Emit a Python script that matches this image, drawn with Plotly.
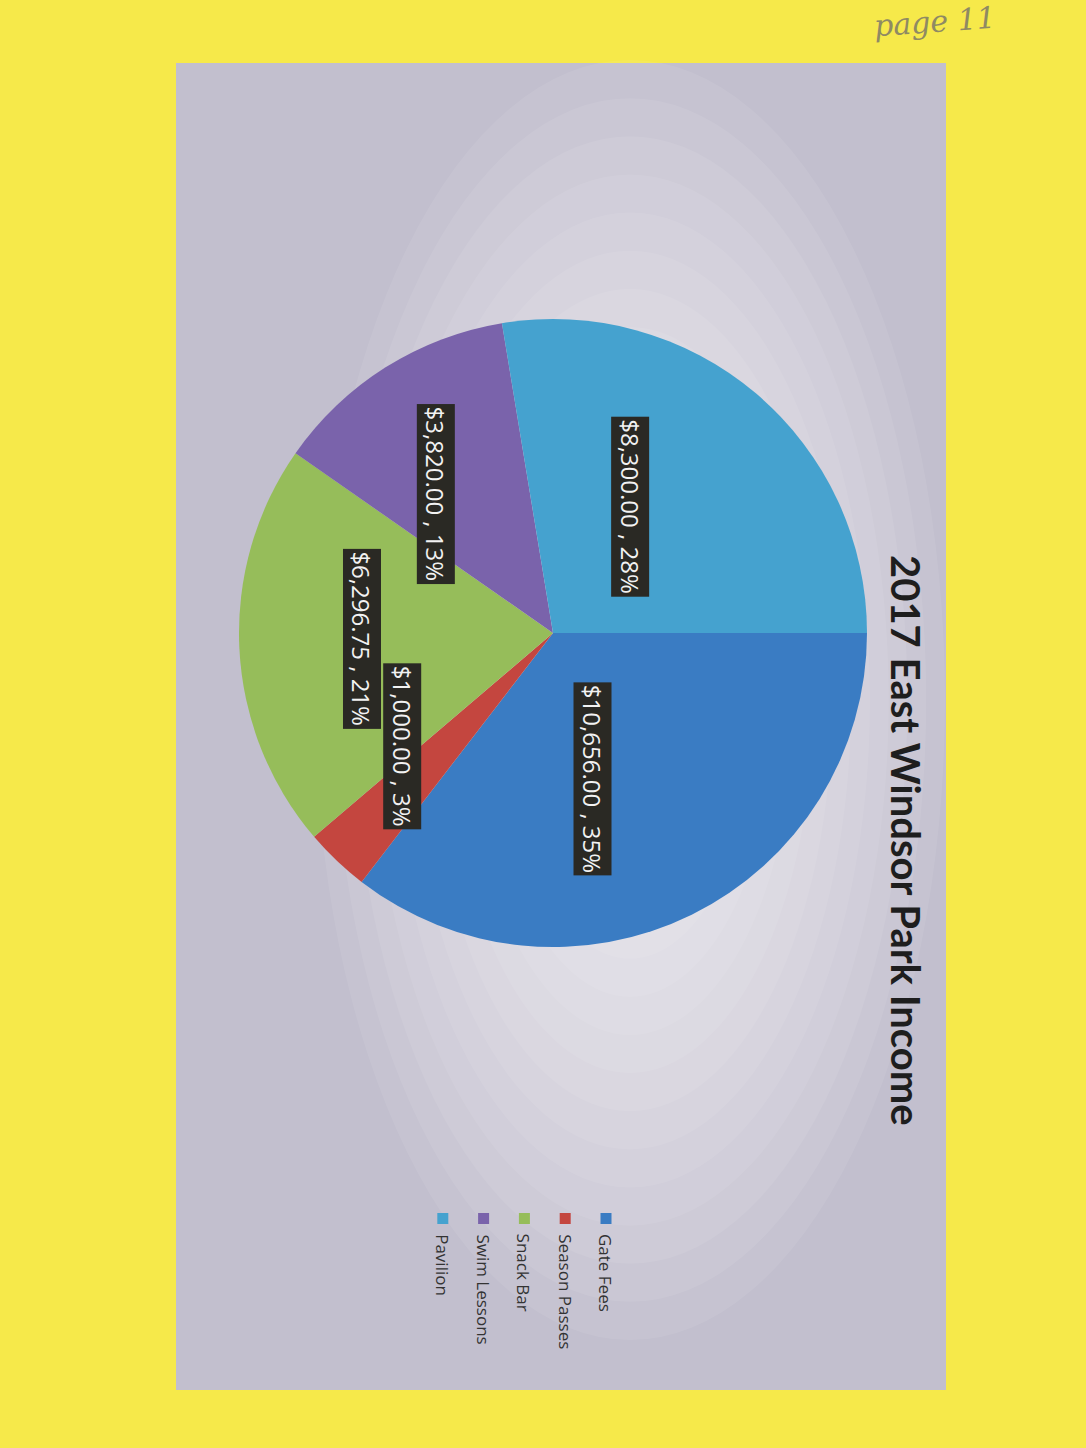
import math
import plotly.graph_objects as go

# Income by source, 2017
categories = ["Gate Fees", "Season Passes", "Snack Bar", "Swim Lessons", "Pavilion"]
income = [10656.00, 1000.00, 6296.75, 3820.00, 8300.00]
colors = ["#3a7cc3", "#c4463f", "#96bd5a", "#7a63ab", "#45a2cf"]
title_text = "2017 East Windsor Park Income"

W, H = 1086, 1448
YELLOW = "#f6e94a"


def px(x):
    return x / W


def py(y):
    return 1 - y / H


# pie geometry on the page (pixels)
CX, CY, R = 553, 633, 314
START = 90  # first slice starts at 3 o'clock, running clockwise

fig = go.Figure()

fig.add_trace(go.Pie(
    labels=categories,
    values=income,
    sort=False,
    direction="clockwise",
    rotation=START,
    marker=dict(colors=colors, line=dict(width=0)),
    textinfo="none",
    hoverinfo="label+value+percent",
    showlegend=False,
    domain=dict(x=[px(CX - R), px(CX + R)], y=[py(CY + R), py(CY - R)]),
))

shapes = []
# chart panel: lavender-grey base with a lighter centre built from stacked ellipses
PX0, PX1, PY0, PY1 = 176, 946, 63, 1390
shapes.append(dict(type="rect", xref="paper", yref="paper", layer="below",
                   x0=px(PX0), x1=px(PX1), y0=py(PY1), y1=py(PY0),
                   fillcolor="#c2bfce", line=dict(width=0)))
GX, GY = 630, 700
n_glow = 16
for k in range(n_glow):
    t = 1 - k / n_glow
    rx = 300 * t + 15
    ry = 610 * t + 30
    shapes.append(dict(type="circle", xref="paper", yref="paper", layer="below",
                       x0=px(GX - rx), x1=px(GX + rx), y0=py(GY + ry), y1=py(GY - ry),
                       fillcolor="rgba(255,255,255,0.075)", line=dict(width=0)))

annotations = []

# slice labels: value and percent, turned to read downwards
total = sum(income)
label_nudge = [(11, 0.48), (9.5, 0.60), (1, 0.61), (-8, 0.58), (-9, 0.47)]
acc = 0.0
for v, (dang, frac) in zip(income, label_nudge):
    span = 360 * v / total
    mid = START + acc + span / 2 + dang
    acc += span
    th = math.radians(mid)
    lx = CX + frac * R * math.sin(th)
    ly = CY - frac * R * math.cos(th)
    pct = round(100 * v / total)
    annotations.append(dict(
        x=px(lx), y=py(ly), xref="paper", yref="paper", showarrow=False,
        xanchor="center", yanchor="middle",
        text=f"${v:,.2f} , {pct}%", textangle=90,
        font=dict(family="Open Sans", size=24, color="#f2f2f2"),
        bgcolor="#2a2924", borderpad=2,
    ))

# title
annotations.append(dict(
    x=px(906), y=py(840), xref="paper", yref="paper", showarrow=False,
    xanchor="center", yanchor="middle",
    text=f"<b>{title_text}</b>", textangle=90,
    font=dict(family="Lato", size=40, color="#1e1e1e"),
))

# legend, stacked right to left
for i, (name, c) in enumerate(zip(categories, colors)):
    lx = 606 - i * 40.8
    shapes.append(dict(type="rect", xref="paper", yref="paper",
                       x0=px(lx - 5.5), x1=px(lx + 5.5), y0=py(1224), y1=py(1213),
                       fillcolor=c, line=dict(width=0)))
    annotations.append(dict(
        x=px(lx), y=py(1232), xref="paper", yref="paper", showarrow=False,
        xanchor="center", yanchor="top",
        text=name, textangle=90,
        font=dict(family="Open Sans", size=17, color="#333333"),
    ))

# handwritten page note
annotations.append(dict(
    x=px(935), y=py(22), xref="paper", yref="paper", showarrow=False,
    xanchor="center", yanchor="middle",
    text="page 11", textangle=-4,
    font=dict(family="DejaVu Serif", size=30, color="#8f8a63", style="italic"),
))

fig.update_layout(
    width=W, height=H,
    margin=dict(l=0, r=0, t=0, b=0),
    paper_bgcolor=YELLOW, plot_bgcolor=YELLOW,
    shapes=shapes, annotations=annotations,
    showlegend=False,
)

fig.write_html("out.html")
